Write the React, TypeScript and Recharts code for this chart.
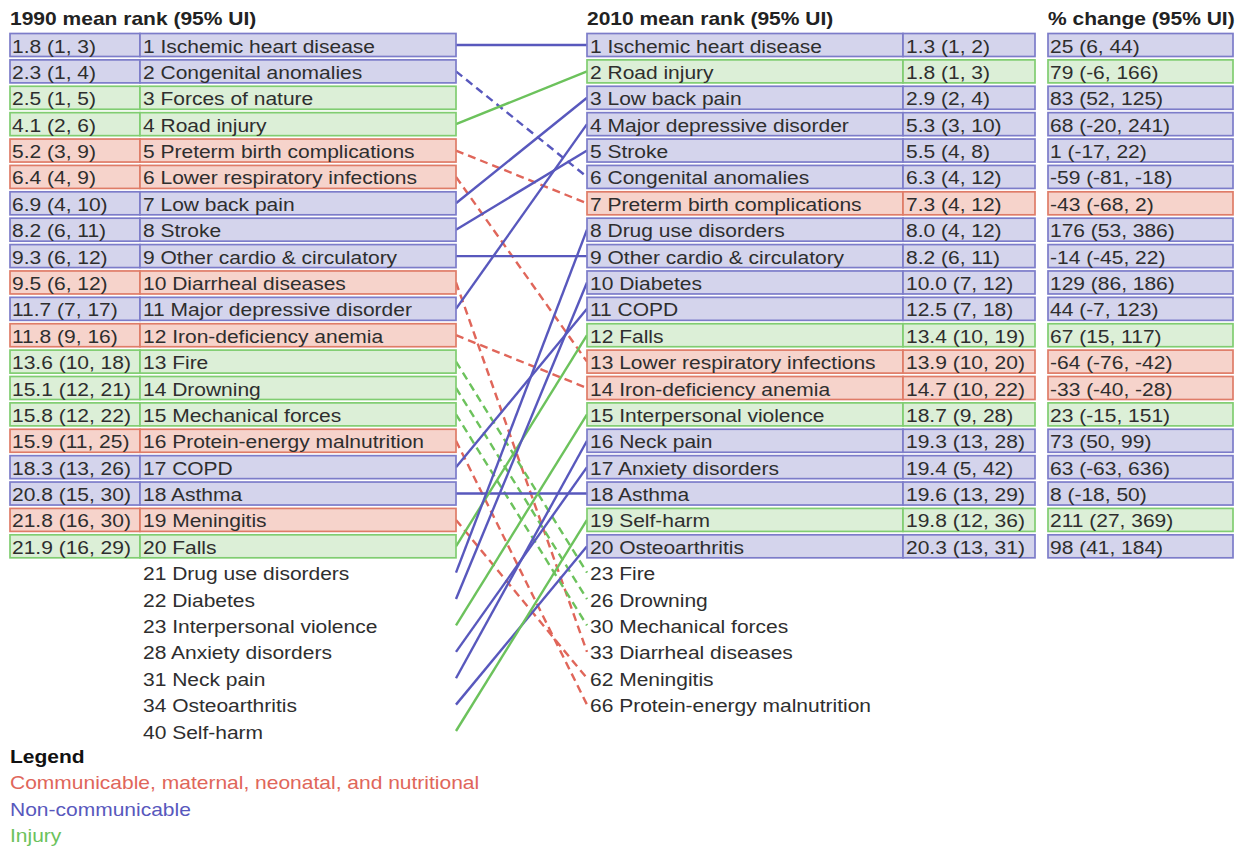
import { ComposedChart, Line, Scatter, XAxis, YAxis } from 'recharts';

type Cat = 'C' | 'N' | 'I';

// 1990 top 20, then the extra ranks needed for lines
const ranks1990: number[] = [1, 2, 3, 4, 5, 6, 7, 8, 9, 10, 11, 12, 13, 14, 15, 16, 17, 18, 19, 20, 21, 22, 23, 28, 31, 34, 40];
const names1990: string[] = [
  'Ischemic heart disease', 'Congenital anomalies', 'Forces of nature', 'Road injury',
  'Preterm birth complications', 'Lower respiratory infections', 'Low back pain', 'Stroke',
  'Other cardio & circulatory', 'Diarrheal diseases', 'Major depressive disorder',
  'Iron-deficiency anemia', 'Fire', 'Drowning', 'Mechanical forces',
  'Protein-energy malnutrition', 'COPD', 'Asthma', 'Meningitis', 'Falls',
  'Drug use disorders', 'Diabetes', 'Interpersonal violence', 'Anxiety disorders',
  'Neck pain', 'Osteoarthritis', 'Self-harm',
];
const cats1990: Cat[] = ['N', 'N', 'I', 'I', 'C', 'C', 'N', 'N', 'N', 'C', 'N', 'C', 'I', 'I', 'I', 'C', 'N', 'N', 'C', 'I', 'N', 'N', 'I', 'N', 'N', 'N', 'I'];
const mean1990: string[] = [
  '1.8 (1, 3)', '2.3 (1, 4)', '2.5 (1, 5)', '4.1 (2, 6)', '5.2 (3, 9)', '6.4 (4, 9)',
  '6.9 (4, 10)', '8.2 (6, 11)', '9.3 (6, 12)', '9.5 (6, 12)', '11.7 (7, 17)', '11.8 (9, 16)',
  '13.6 (10, 18)', '15.1 (12, 21)', '15.8 (12, 22)', '15.9 (11, 25)', '18.3 (13, 26)',
  '20.8 (15, 30)', '21.8 (16, 30)', '21.9 (16, 29)',
];

// 2010 top 20, then the extra ranks
const ranks2010: number[] = [1, 2, 3, 4, 5, 6, 7, 8, 9, 10, 11, 12, 13, 14, 15, 16, 17, 18, 19, 20, 23, 26, 30, 33, 62, 66];
const names2010: string[] = [
  'Ischemic heart disease', 'Road injury', 'Low back pain', 'Major depressive disorder',
  'Stroke', 'Congenital anomalies', 'Preterm birth complications', 'Drug use disorders',
  'Other cardio & circulatory', 'Diabetes', 'COPD', 'Falls', 'Lower respiratory infections',
  'Iron-deficiency anemia', 'Interpersonal violence', 'Neck pain', 'Anxiety disorders',
  'Asthma', 'Self-harm', 'Osteoarthritis',
  'Fire', 'Drowning', 'Mechanical forces', 'Diarrheal diseases', 'Meningitis',
  'Protein-energy malnutrition',
];
const cats2010: Cat[] = ['N', 'I', 'N', 'N', 'N', 'N', 'C', 'N', 'N', 'N', 'N', 'I', 'C', 'C', 'I', 'N', 'N', 'N', 'I', 'N', 'I', 'I', 'I', 'C', 'C', 'C'];
const mean2010: string[] = [
  '1.3 (1, 2)', '1.8 (1, 3)', '2.9 (2, 4)', '5.3 (3, 10)', '5.5 (4, 8)', '6.3 (4, 12)',
  '7.3 (4, 12)', '8.0 (4, 12)', '8.2 (6, 11)', '10.0 (7, 12)', '12.5 (7, 18)',
  '13.4 (10, 19)', '13.9 (10, 20)', '14.7 (10, 22)', '18.7 (9, 28)', '19.3 (13, 28)',
  '19.4 (5, 42)', '19.6 (13, 29)', '19.8 (12, 36)', '20.3 (13, 31)',
];
const change2010: string[] = [
  '25 (6, 44)', '79 (-6, 166)', '83 (52, 125)', '68 (-20, 241)', '1 (-17, 22)',
  '-59 (-81, -18)', '-43 (-68, 2)', '176 (53, 386)', '-14 (-45, 22)', '129 (86, 186)',
  '44 (-7, 123)', '67 (15, 117)', '-64 (-76, -42)', '-33 (-40, -28)', '23 (-15, 151)',
  '73 (50, 99)', '63 (-63, 636)', '8 (-18, 50)', '211 (27, 369)', '98 (41, 184)',
];

const palette: Record<Cat, { line: string; fill: string; border: string }> = {
  C: { line: '#e0665a', fill: '#f6d3cb', border: '#df7c68' },
  N: { line: '#5858bd', fill: '#d4d4ec', border: '#7c7cc9' },
  I: { line: '#6cc25c', fill: '#dcefd7', border: '#80cd71' },
};

const FONT = '"Liberation Sans", Arial, sans-serif';
const TEXT = '#2e2e2e';
const FS = 18.5;
const SX = 1.135; // the source type is set a little wide

const left = names1990.map((name, i) => ({
  x: 0,
  y: i + 1,
  rank: ranks1990[i],
  name,
  cat: cats1990[i],
  mean: mean1990[i],
}));

const right = names2010.map((name, i) => ({
  x: 1,
  y: i + 1,
  rank: ranks2010[i],
  name,
  cat: cats2010[i],
  mean: mean2010[i],
  change: change2010[i],
}));

// a line for every cause found in both lists; dashed when it lost ground
const links = left
  .map((l) => {
    const r = right.find((d) => d.name === l.name);
    if (!r) return null;
    return { key: l.name, cat: l.cat, dashed: r.rank > l.rank, data: [{ x: 0, y: l.y }, { x: 1, y: r.y }] };
  })
  .filter((d): d is NonNullable<typeof d> => d !== null);

const BOX_H = 23;

const Label = ({ x, y, children }: { x: number; y: number; children: any }) => (
  <text
    transform={`translate(${x},${y + 1}) scale(${SX},1)`}
    dominantBaseline="central"
    fontSize={FS}
    fontFamily={FONT}
    fill={TEXT}
  >
    {children}
  </text>
);

const LeftRow = (props: any) => {
  const { cx, cy, payload } = props;
  const c = palette[payload.cat as Cat];
  const label = `${payload.rank} ${payload.name}`;
  if (!payload.mean) return <Label x={cx - 313} y={cy}>{label}</Label>;
  return (
    <g>
      <rect x={cx - 446} y={cy - BOX_H / 2} width={130} height={BOX_H} fill={c.fill} stroke={c.border} strokeWidth={1.7} />
      <rect x={cx - 316} y={cy - BOX_H / 2} width={316} height={BOX_H} fill={c.fill} stroke={c.border} strokeWidth={1.7} />
      <Label x={cx - 444} y={cy}>{payload.mean}</Label>
      <Label x={cx - 313} y={cy}>{label}</Label>
    </g>
  );
};

const RightRow = (props: any) => {
  const { cx, cy, payload } = props;
  const c = palette[payload.cat as Cat];
  const label = `${payload.rank} ${payload.name}`;
  if (!payload.mean) return <Label x={cx + 3} y={cy}>{label}</Label>;
  return (
    <g>
      <rect x={cx} y={cy - BOX_H / 2} width={316} height={BOX_H} fill={c.fill} stroke={c.border} strokeWidth={1.7} />
      <rect x={cx + 316} y={cy - BOX_H / 2} width={132} height={BOX_H} fill={c.fill} stroke={c.border} strokeWidth={1.7} />
      <rect x={cx + 461} y={cy - BOX_H / 2} width={185} height={BOX_H} fill={c.fill} stroke={c.border} strokeWidth={1.7} />
      <Label x={cx + 3} y={cy}>{label}</Label>
      <Label x={cx + 319} y={cy}>{payload.mean}</Label>
      <Label x={cx + 463} y={cy}>{payload.change}</Label>
    </g>
  );
};

const htmlText = {
  fontFamily: FONT,
  fontSize: FS,
  whiteSpace: 'nowrap' as const,
  transform: `scaleX(${SX})`,
  transformOrigin: 'left center',
};

const heading = (left: number, text: string) => (
  <div style={{ ...htmlText, position: 'absolute', left, top: 8, fontWeight: 'bold', color: '#222' }}>{text}</div>
);

const legendItems: { label: string; cat: Cat }[] = [
  { label: 'Communicable, maternal, neonatal, and nutritional', cat: 'C' },
  { label: 'Non-communicable', cat: 'N' },
  { label: 'Injury', cat: 'I' },
];

export default function App() {
  return (
    <div style={{ position: 'absolute', left: 0, top: 0, width: 1247, height: 850, background: '#fff' }}>
      <ComposedChart
        width={1247}
        height={850}
        margin={{ top: 45, bottom: 850 - 731, left: 456, right: 1247 - 587 }}
      >
        <XAxis type="number" dataKey="x" domain={[0, 1]} hide />
        <YAxis type="number" dataKey="y" domain={[1, 27]} reversed hide />
        {links.map((l) => (
          <Line
            key={l.key}
            data={l.data}
            dataKey="y"
            stroke={palette[l.cat].line}
            strokeWidth={2.4}
            strokeDasharray={l.dashed ? '8 5' : undefined}
            dot={false}
            activeDot={false}
            isAnimationActive={false}
          />
        ))}
        <Scatter data={left} shape={LeftRow} isAnimationActive={false} />
        <Scatter data={right} shape={RightRow} isAnimationActive={false} />
      </ComposedChart>
      {heading(10, '1990 mean rank (95% UI)')}
      {heading(587, '2010 mean rank (95% UI)')}
      {heading(1048, '% change (95% UI)')}
      <div style={{ position: 'absolute', left: 10, top: 744, lineHeight: '26.4px' }}>
        <div style={{ ...htmlText, fontWeight: 'bold', color: '#111' }}>Legend</div>
        {legendItems.map((d) => (
          <div key={d.cat} style={{ ...htmlText, color: palette[d.cat].line }}>
            {d.label}
          </div>
        ))}
      </div>
    </div>
  );
}
